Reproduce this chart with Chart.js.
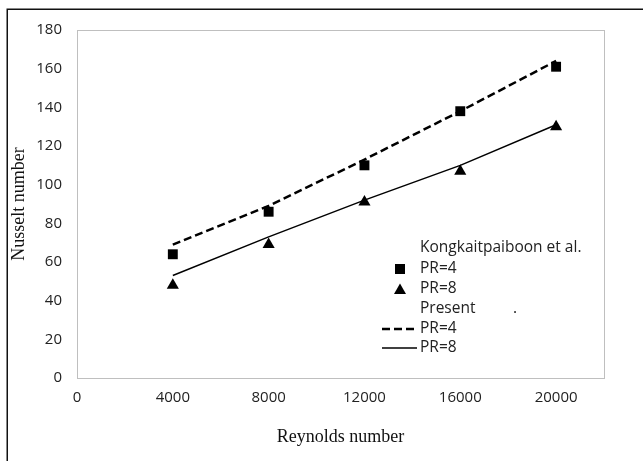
<!DOCTYPE html>
<html>
<head>
<meta charset="utf-8">
<script src="https://cdn.jsdelivr.net/npm/chart.js@4"></script>
<style>
  html, body { margin: 0; padding: 0; background: #fff; }
  #wrap { width: 643px; height: 461px; }
</style>
</head>
<body>
<div id="wrap"><canvas id="nusselt" width="643" height="461"></canvas></div>
<script>
// Reynolds numbers on the x axis
const reynolds = [4000, 8000, 12000, 16000, 20000]

// Kongkaitpaiboon et al. (markers)
const kongPr4 = [64, 86, 110, 138, 161]
const kongPr8 = [48, 69, 91, 107, 130]

// Present study (lines)
const presentPr4 = [69, 89, 113, 138, 164]
const presentPr8 = [53, 73, 92, 110, 131]

const xTicks = [0, 4000, 8000, 12000, 16000, 20000]
const yTicks = [0, 20, 40, 60, 80, 100, 120, 140, 160, 180]

const toPoints = (ys) => reynolds.map((x, i) => ({ x: x, y: ys[i] }))

// outer frame + plot area box
const framePlugin = {
  id: 'frame',
  beforeDraw(chart) {
    const ctx = chart.ctx
    ctx.save()
    ctx.fillStyle = '#fff'
    ctx.fillRect(0, 0, chart.width, chart.height)
    ctx.strokeStyle = '#111'
    ctx.lineWidth = 1.5
    ctx.strokeRect(7.25, 9.25, 700, 600)
    ctx.restore()
  },
  afterDatasetsDraw(chart) {
    const a = chart.chartArea
    const ctx = chart.ctx
    ctx.save()
    ctx.strokeStyle = '#bfbfbf'
    ctx.lineWidth = 1
    ctx.strokeRect(a.left + 0.5, a.top + 0.5, a.right - a.left, a.bottom - a.top)
    ctx.restore()
  }
}

// Excel-like legend sitting inside the plot
const legendPlugin = {
  id: 'excelLegend',
  afterDraw(chart) {
    const ctx = chart.ctx
    const textX = 420
    const symX = 400
    const rows = [248, 269, 289, 309, 329, 348]
    ctx.save()
    ctx.font = '15.5px "Open Sans"'
    ctx.fillStyle = '#222'
    ctx.textBaseline = 'middle'
    ctx.textAlign = 'left'
    ctx.fillText('Kongkaitpaiboon et al.', textX, rows[0])
    ctx.fillText('PR=4', textX, rows[1])
    ctx.fillText('PR=8', textX, rows[2])
    ctx.fillText('Present', textX, rows[3])
    ctx.fillText('.', 513, rows[3])
    ctx.fillText('PR=4', textX, rows[4])
    ctx.fillText('PR=8', textX, rows[5])

    ctx.fillStyle = '#000'
    ctx.fillRect(symX - 5, rows[1] - 5, 10, 10)
    ctx.beginPath()
    ctx.moveTo(symX, rows[2] - 5.5)
    ctx.lineTo(symX + 6, rows[2] + 5)
    ctx.lineTo(symX - 6, rows[2] + 5)
    ctx.closePath()
    ctx.fill()

    ctx.strokeStyle = '#000'
    ctx.lineWidth = 2.5
    ctx.setLineDash([8, 4])
    ctx.beginPath()
    ctx.moveTo(382, rows[4])
    ctx.lineTo(417, rows[4])
    ctx.stroke()
    ctx.setLineDash([])
    ctx.lineWidth = 1.5
    ctx.beginPath()
    ctx.moveTo(382, rows[5])
    ctx.lineTo(417, rows[5])
    ctx.stroke()
    ctx.restore()
  }
}

new Chart(document.getElementById('nusselt').getContext('2d'), {
  type: 'scatter',
  data: {
    datasets: [
      {
        label: 'Present PR=4',
        data: toPoints(presentPr4),
        showLine: true,
        borderColor: '#000',
        borderWidth: 2.5,
        borderDash: [8, 4],
        pointRadius: 0,
        tension: 0
      },
      {
        label: 'Present PR=8',
        data: toPoints(presentPr8),
        showLine: true,
        borderColor: '#000',
        borderWidth: 1.5,
        pointRadius: 0,
        tension: 0
      },
      {
        label: 'Kongkaitpaiboon PR=4',
        data: toPoints(kongPr4),
        pointStyle: 'rect',
        pointRadius: 7,
        backgroundColor: '#000',
        borderColor: '#000',
        borderWidth: 0
      },
      {
        label: 'Kongkaitpaiboon PR=8',
        data: toPoints(kongPr8),
        pointStyle: 'triangle',
        pointRadius: 7,
        backgroundColor: '#000',
        borderColor: '#000',
        borderWidth: 0
      }
    ]
  },
  options: {
    responsive: false,
    animation: false,
    layout: { padding: { left: 8, top: 30, right: 39, bottom: 0 } },
    plugins: {
      legend: { display: false },
      title: { display: false },
      tooltip: { enabled: false }
    },
    scales: {
      x: {
        type: 'linear',
        min: 0,
        max: 22000,
        grid: { display: false, drawTicks: false },
        border: { display: false },
        afterFit: (scale) => { scale.height = 83 },
        afterBuildTicks: (scale) => { scale.ticks = xTicks.map(v => ({ value: v })) },
        ticks: {
          padding: 11,
          color: '#222',
          font: { family: 'Open Sans', size: 15 },
          callback: (value) => String(value)
        },
        title: {
          display: true,
          text: 'Reynolds number',
          color: '#111',
          font: { family: 'Liberation Serif', size: 18 },
          padding: { top: 0, bottom: 13 }
        }
      },
      y: {
        type: 'linear',
        min: 0,
        max: 180,
        grid: { display: false, drawTicks: false },
        border: { display: false },
        afterFit: (scale) => { scale.width = 69 },
        afterBuildTicks: (scale) => { scale.ticks = yTicks.map(v => ({ value: v })) },
        ticks: {
          padding: 15,
          color: '#222',
          font: { family: 'Open Sans', size: 15 },
          callback: (value) => String(value)
        },
        title: {
          display: true,
          text: 'Nusselt number',
          color: '#111',
          font: { family: 'Liberation Serif', size: 18 },
          padding: { top: 0, bottom: 0 }
        }
      }
    }
  },
  plugins: [framePlugin, legendPlugin]
})
</script>
</body>
</html>
